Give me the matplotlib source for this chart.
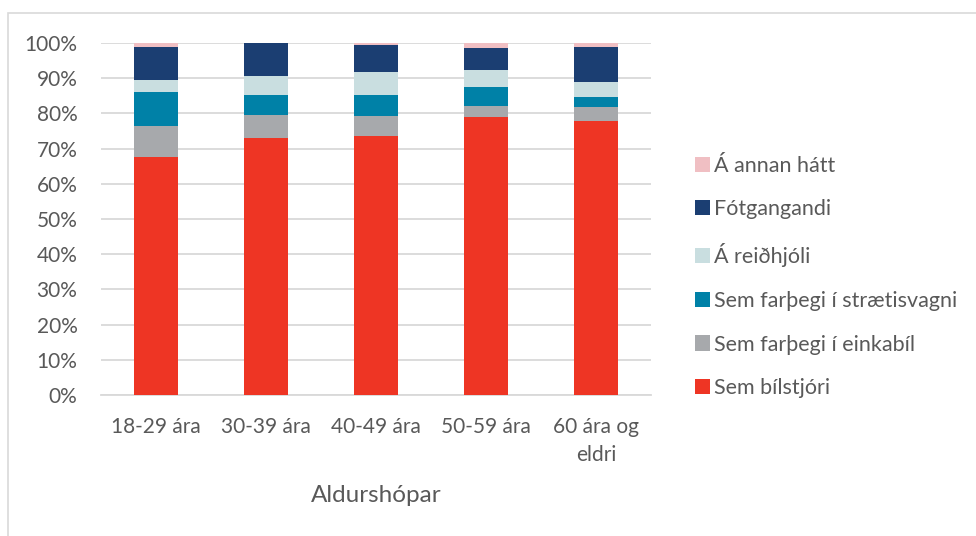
import matplotlib.pyplot as plt
import numpy as np
from matplotlib.patches import Rectangle

# Ferðamáti eftir aldri, hlutfall (%)
groups = ["18-29 ára", "30-39 ára", "40-49 ára", "50-59 ára", "60 ára og\neldri"]
series_names = [
    "Sem bílstjóri",
    "Sem farþegi í einkabíl",
    "Sem farþegi í strætisvagni",
    "Á reiðhjóli",
    "Fótgangandi",
    "Á annan hátt",
]
driver = [67.6, 72.9, 73.6, 78.9, 77.9]
car_passenger = [8.9, 6.6, 5.8, 3.2, 3.8]
bus_passenger = [9.7, 5.6, 5.7, 5.3, 3.1]
bicycle = [3.3, 5.5, 6.8, 4.8, 4.1]
walking = [9.5, 9.4, 7.6, 6.4, 10.0]
other = [1.0, 0.0, 0.5, 1.4, 1.1]
colors = ["#EE3524", "#A7A9AC", "#0081A7", "#C9DEE0", "#1B3E72", "#F0BFC3"]

plt.rcParams.update({
    'font.family': ['Lato', 'DejaVu Sans'],
})
text_color = "#595959"
fontsize = 15

fig = plt.figure(figsize=(9.76, 5.36), dpi=100)
ax = fig.add_axes([101 / 976, 1 - 395 / 536, 550 / 976, 352 / 536])

data = np.array([driver, car_passenger, bus_passenger, bicycle, walking, other]) / 100
x = np.arange(len(groups))
bottom = np.zeros(len(groups))
handles = []
for i, name in enumerate(series_names):
    h = ax.bar(x, data[i], width=0.4, bottom=bottom, color=colors[i], label=name, zorder=3)
    handles.append(h)
    bottom += data[i]

ax.set_xlim(-0.5, len(groups) - 0.5)
ax.set_ylim(0, 1)
ax.set_yticks(np.arange(0, 1.01, 0.1))
ax.set_yticklabels([f"{int(round(v * 100))}%" for v in np.arange(0, 1.01, 0.1)])
ax.set_xticks(x)
ax.set_xticklabels(groups, linespacing=1.5)
ax.tick_params(axis='both', length=0, labelsize=fontsize, labelcolor=text_color)
ax.tick_params(axis='x', pad=16)
ax.tick_params(axis='y', pad=17)
ax.yaxis.grid(True, color="#D9D9D9", linewidth=1.3, zorder=0)
for s in ['left', 'right', 'top']:
    ax.spines[s].set_visible(False)
ax.spines['bottom'].set_color("#D9D9D9")
ax.spines['bottom'].set_linewidth(1.3)

fig.text(376 / 976, 1 - 495 / 536, "Aldurshópar", ha='center', va='center',
         fontsize=17.5, color=text_color)

leg = fig.legend(handles[::-1], series_names[::-1], loc='center left',
                 bbox_to_anchor=(686 / 976, 1 - 277 / 536), frameon=False,
                 fontsize=15.5, labelspacing=1.1, handlelength=0.7,
                 handleheight=0.7, handletextpad=0.2, borderaxespad=0)
for t in leg.get_texts():
    t.set_color(text_color)

# chart area border
fig.patches.append(Rectangle((8 / 976, -0.1), 1.1, 1.1 - 13 / 536,
                             transform=fig.transFigure, fill=False,
                             edgecolor="#D9D9D9", linewidth=1.2))

plt.savefig("out.png", dpi=100)
